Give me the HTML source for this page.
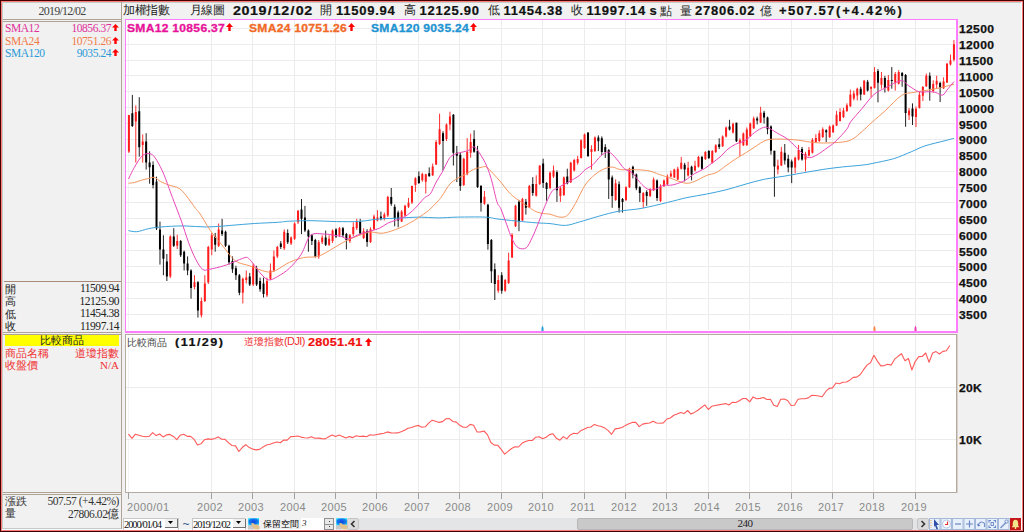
<!DOCTYPE html>
<html><head><meta charset="utf-8">
<style>
*{box-sizing:border-box;margin:0;padding:0}
html,body{width:1024px;height:532px;overflow:hidden;background:#f0f1f0}
body{position:relative;font-family:"Liberation Sans",sans-serif}
.a{position:absolute;white-space:nowrap}
.frame{position:absolute;left:0;top:0;width:1024px;height:532px;border:1px solid #420000}
.frame2{position:absolute;left:1px;top:1px;width:1022px;height:530px;border:1px solid #ff7a7a}
.ln{position:absolute;background:#b0a294}
.ser{font-family:"Liberation Serif",serif}
.lp{font-size:11.5px;line-height:12px;letter-spacing:-0.45px}
.hb{font-weight:bold;font-size:13px;line-height:14px;color:#111;letter-spacing:0.75px;-webkit-text-stroke:0.2px #111}
.hc{font-size:12px;line-height:14px;color:#222}
.leg{font-weight:bold;font-size:11px;line-height:12px;letter-spacing:0.25px;transform:scaleX(1.1);transform-origin:left;-webkit-text-stroke:0.3px currentColor}
.yl{position:absolute;left:958.5px;font-weight:bold;font-size:11px;line-height:14px;color:#111;letter-spacing:0.3px;transform:scaleX(1.1);transform-origin:left;-webkit-text-stroke:0.25px #111}
.xl{position:absolute;top:500.8px;font-size:11px;line-height:13px;color:#8a8a8a;letter-spacing:0.4px}
.xl.c{width:42px;text-align:center}
.arr{position:absolute;width:7px;height:9px}
</style></head><body>
<div class="frame"></div><div class="frame2"></div>
<!-- inner 3d lines -->
<div class="a" style="left:2px;top:2px;width:1019px;height:1px;background:#c4ccc6"></div>
<div class="a" style="left:2px;top:2px;width:1px;height:528px;background:#c4ccc6"></div>
<div class="a" style="left:1021px;top:2px;width:1px;height:528px;background:#f4ffff"></div>
<div class="a" style="left:2px;top:529px;width:1020px;height:1px;background:#f4ffff"></div>

<!-- left panel -->
<div class="ln" style="left:121px;top:2px;width:1px;height:527px"></div>
<div class="a ser" style="left:3px;top:3.5px;width:118px;text-align:center;font-size:12px;line-height:14px;color:#444;letter-spacing:-0.75px">2019/12/02</div>
<div class="ln" style="left:3px;top:19px;width:118px;height:1px"></div>
<div class="ln" style="left:3px;top:21px;width:118px;height:1px"></div>

<div class="a ser lp" style="left:5px;top:22px;color:#e0309a">SMA12</div>
<div class="a ser lp" style="left:40px;top:22px;width:71px;text-align:right;color:#e0309a">10856.37</div>
<div class="a ser lp" style="left:5px;top:34.5px;color:#f07a48">SMA24</div>
<div class="a ser lp" style="left:40px;top:34.5px;width:71px;text-align:right;color:#f07a48">10751.26</div>
<div class="a ser lp" style="left:5px;top:47px;color:#2a9ad8">SMA120</div>
<div class="a ser lp" style="left:40px;top:47px;width:71px;text-align:right;color:#2a9ad8">9035.24</div>

<div class="ln" style="left:4px;top:281px;width:117px;height:1px;background:#a88a78"></div>
<div class="a lp" style="left:5px;top:282.5px;color:#222;font-size:11px;letter-spacing:0">開</div>
<div class="a lp" style="left:5px;top:295px;color:#222;font-size:11px;letter-spacing:0">高</div>
<div class="a lp" style="left:5px;top:307.5px;color:#222;font-size:11px;letter-spacing:0">低</div>
<div class="a lp" style="left:5px;top:320px;color:#222;font-size:11px;letter-spacing:0">收</div>
<div class="a ser lp" style="left:40px;top:282px;width:79px;text-align:right;color:#222">11509.94</div>
<div class="a ser lp" style="left:40px;top:294.5px;width:79px;text-align:right;color:#222">12125.90</div>
<div class="a ser lp" style="left:40px;top:307px;width:79px;text-align:right;color:#222">11454.38</div>
<div class="a ser lp" style="left:40px;top:319.5px;width:79px;text-align:right;color:#222">11997.14</div>
<div class="ln" style="left:3px;top:332px;width:118px;height:1px"></div>
<div class="ln" style="left:3px;top:334px;width:118px;height:1px"></div>
<div class="a" style="left:5px;top:335px;width:114px;height:11px;background:#ffff00"></div>
<div class="a" style="left:5px;top:334px;width:114px;text-align:center;font-size:11px;line-height:13px;color:#222">比較商品</div>
<div class="a" style="left:5px;top:347px;font-size:11px;line-height:13px;color:#f03030">商品名稱</div>
<div class="a" style="left:40px;top:347px;width:79px;text-align:right;font-size:11px;line-height:13px;color:#f03030">道瓊指數</div>
<div class="a" style="left:5px;top:358.5px;font-size:11px;line-height:13px;color:#f03030">收盤價</div>
<div class="a ser" style="left:40px;top:358.5px;width:79px;text-align:right;font-size:11px;line-height:13px;color:#f03030">N/A</div>

<div class="ln" style="left:3px;top:492px;width:118px;height:1px"></div>
<div class="ln" style="left:3px;top:494px;width:118px;height:1px"></div>
<div class="a" style="left:5px;top:494.5px;font-size:11px;line-height:13px;color:#333">漲跌</div>
<div class="a ser lp" style="left:30px;top:495px;width:89px;text-align:right;color:#333">507.57 (+4.42%)</div>
<div class="a" style="left:5px;top:507px;font-size:11px;line-height:13px;color:#333">量</div>
<div class="a ser lp" style="left:30px;top:507.5px;width:89px;text-align:right;color:#333">27806.02億</div>
<div class="ln" style="left:3px;top:528px;width:118px;height:1px;background:#c8c8c8"></div>

<!-- header bar -->
<div class="a hc" style="left:123px;top:3px;letter-spacing:-0.3px">加權指數</div>
<div class="a hc" style="left:190px;top:3px;letter-spacing:-0.6px">月線圖</div>
<div class="a hb" style="left:233px;top:4px;letter-spacing:0.5px;transform:scaleX(1.1);transform-origin:left">2019<span style="margin:0 0.6px">/</span>12<span style="margin:0 0.6px">/</span>02</div>
<div class="a hc" style="left:320px;top:3px">開</div>
<div class="a hb" style="left:336px;top:4px">11509.94</div>
<div class="a hc" style="left:404px;top:3px">高</div>
<div class="a hb" style="left:419.5px;top:4px">12125.90</div>
<div class="a hc" style="left:488px;top:3px">低</div>
<div class="a hb" style="left:503.5px;top:4px">11454.38</div>
<div class="a hc" style="left:570.5px;top:3px">收</div>
<div class="a hb" style="left:586.5px;top:4px">11997.14</div>
<div class="a hb" style="left:649.5px;top:4px">s</div>
<div class="a hc" style="left:660px;top:3.5px">點</div>
<div class="a hc" style="left:679.5px;top:3.5px">量</div>
<div class="a hb" style="left:695px;top:4px">27806.02</div>
<div class="a hc" style="left:759.5px;top:3.5px">億</div>
<div class="a hb" style="left:779px;top:4px;letter-spacing:1.3px">+507.57</div><div class="a hb" style="left:836px;top:4px;letter-spacing:1.8px">(+4.42%)</div>

<!-- top chart -->
<div class="a" style="left:125px;top:19px;width:833px;height:314px;background:#fff;border-style:solid;border-color:#ff7cff;border-width:1px 2px 2px 1px"></div>
<!-- lower chart -->
<div class="a" style="left:125px;top:334px;width:832px;height:159px;background:#fff;border:1px solid #b4aaa0"></div><div class="a" style="left:957px;top:334px;width:1px;height:159px;background:#d8d2cc"></div>

<svg class="a" style="left:0;top:0" width="1024" height="532" viewBox="0 0 1024 532">
<path d="M128.5 20V330M128.5 335V492" stroke="#f3f3f3" stroke-width="1" fill="none" shape-rendering="crispEdges"/>
<path d="M126 314.5H955 M126 298.5H955 M126 282.5H955 M126 266.5H955 M126 250.5H955 M126 234.5H955 M126 218.5H955 M126 202.5H955 M126 187.5H955 M126 171.5H955 M126 155.5H955 M126 139.5H955 M126 123.5H955 M126 107.5H955 M126 91.5H955 M126 75.5H955 M126 60.5H955 M126 44.5H955 M126 28.5H955 M211.5 20V330 M252.5 20V330 M294.5 20V330 M335.5 20V330 M376.5 20V330 M418.5 20V330 M459.5 20V330 M501.5 20V330 M542.5 20V330 M584.5 20V330 M625.5 20V330 M666.5 20V330 M708.5 20V330 M749.5 20V330 M791.5 20V330 M832.5 20V330 M873.5 20V330 M915.5 20V330" stroke="#ececec" stroke-width="1" fill="none" shape-rendering="crispEdges"/>
<path d="M128.90 115.0V153.0 M135.80 105.4V162.6 M142.71 134.4V162.6 M170.32 235.3V278.0 M177.23 234.8V249.0 M194.49 275.2V289.3 M201.39 297.5V317.5 M204.84 275.2V302.0 M208.30 245.8V284.0 M211.75 232.9V255.2 M218.65 223.5V247.0 M242.82 277.6V303.4 M246.27 270.5V283.4 M253.17 263.5V286.0 M266.98 277.6V297.0 M270.43 263.5V280.0 M273.88 250.5V272.0 M277.34 245.8V258.0 M284.24 229.4V250.0 M291.14 236.4V245.0 M294.60 222.3V240.0 M298.05 210.6V224.0 M318.76 240.0V258.8 M322.21 235.3V244.0 M329.12 235.3V246.0 M332.57 229.4V243.0 M339.47 227.0V237.0 M349.83 234.1V243.0 M353.28 222.3V236.0 M356.73 218.8V230.0 M363.64 228.2V239.0 M370.54 227.3V243.0 M373.99 214.6V230.0 M377.44 210.2V221.4 M384.35 212.6V220.4 M387.80 195.8V217.0 M401.61 210.2V222.0 M405.06 204.8V216.0 M408.51 197.9V208.0 M411.96 185.6V204.0 M415.42 177.2V191.9 M422.32 172.7V181.7 M425.77 173.9V193.5 M432.68 163.5V176.0 M436.13 140.1V165.0 M439.58 113.7V145.0 M446.48 123.5V141.0 M449.94 111.7V130.3 M463.74 157.7V186.0 M467.20 138.1V175.3 M470.65 133.6V157.7 M484.46 191.0V204.8 M498.26 275.2V292.8 M505.17 279.0V291.8 M508.62 252.7V284.0 M512.07 233.1V258.0 M515.52 204.8V227.0 M522.43 197.9V221.0 M529.33 185.0V208.0 M536.24 175.3V196.5 M539.69 165.5V185.0 M550.04 171.4V189.0 M553.50 165.5V178.0 M560.40 186.2V201.9 M563.85 176.5V196.0 M570.76 161.8V183.0 M574.21 158.9V171.5 M577.66 155.9V164.7 M581.11 139.3V158.5 M584.56 133.5V149.0 M591.47 145.2V169.6 M594.92 136.4V152.0 M615.63 179.4V200.9 M625.99 186.2V201.0 M629.44 167.7V188.0 M643.25 192.1V207.8 M650.15 188.2V197.0 M653.60 177.4V191.0 M660.51 184.3V202.0 M663.96 179.4V187.0 M667.41 174.5V185.0 M670.86 170.6V177.5 M674.32 168.7V178.0 M677.77 166.7V180.0 M681.22 156.9V169.5 M688.12 161.8V176.5 M695.03 160.8V171.5 M698.48 155.9V167.5 M705.38 151.1V160.0 M712.29 150.1V163.5 M715.74 144.2V153.0 M722.64 135.4V147.0 M726.10 126.6V137.5 M733.00 122.7V133.5 M739.90 138.3V155.9 M743.36 132.5V146.0 M746.81 127.4V146.0 M750.26 122.5V137.0 M753.71 116.6V129.0 M760.62 106.8V123.0 M777.88 159.6V174.3 M781.33 146.9V166.0 M795.14 156.7V173.3 M798.59 145.0V160.5 M805.49 151.8V171.4 M808.94 146.9V156.5 M812.40 138.1V153.5 M815.85 134.2V143.0 M819.30 130.3V142.0 M822.75 127.4V138.0 M829.66 125.4V138.0 M833.11 124.4V133.0 M836.56 110.8V126.0 M840.01 108.2V121.5 M843.46 107.8V118.0 M846.92 103.3V112.0 M850.37 89.6V107.0 M853.82 90.6V100.4 M857.27 87.7V100.4 M864.18 79.9V95.0 M871.08 86.7V97.4 M874.53 67.1V88.5 M881.44 72.0V88.7 M888.34 75.0V91.6 M895.24 72.0V90.6 M898.70 70.1V84.5 M909.05 108.0V120.0 M915.96 106.5V127.0 M919.41 92.0V108.5 M922.86 86.0V101.0 M926.31 73.5V87.0 M933.22 80.3V92.6 M936.67 75.7V88.7 M943.57 77.3V89.0 M947.02 62.9V83.0 M950.48 54.5V65.5 M953.93 40.1V61.5" stroke="#ff3030" stroke-width="1" fill="none"/>
<path d="M132.35 94.9V127.0 M139.26 97.2V156.7 M146.16 133.2V169.6 M149.61 151.3V183.7 M153.06 161.4V188.4 M156.52 176.7V230.0 M159.97 221.6V264.6 M163.42 235.3V275.2 M166.87 254.0V281.0 M173.78 228.2V247.0 M180.68 240.0V257.0 M184.13 250.5V270.5 M187.58 256.4V275.2 M191.04 269.3V298.7 M197.94 281.1V317.5 M215.20 232.9V251.7 M222.10 218.8V236.0 M225.56 230.6V247.0 M229.01 244.7V264.6 M232.46 256.4V272.9 M235.91 265.8V279.9 M239.36 274.0V295.2 M249.72 272.9V286.0 M256.62 265.8V286.0 M260.08 277.6V291.7 M263.53 277.6V297.5 M280.79 241.1V249.0 M287.69 229.4V244.0 M301.50 199.0V234.1 M304.95 205.9V232.0 M308.40 229.4V251.7 M311.86 234.1V245.0 M315.31 238.8V257.6 M325.66 230.6V246.0 M336.02 228.2V238.0 M342.92 227.0V237.0 M346.38 232.9V249.4 M360.18 218.8V235.0 M367.09 229.2V246.8 M380.90 211.6V220.4 M391.25 188.0V205.8 M394.70 204.4V226.3 M398.16 210.6V227.3 M418.87 171.4V184.0 M429.22 167.4V176.6 M443.03 131.3V170.4 M453.39 114.1V165.5 M456.84 145.9V182.1 M460.29 152.8V190.9 M474.10 130.3V152.8 M477.55 145.9V188.0 M481.00 185.0V211.6 M487.91 203.8V249.7 M491.36 239.0V283.0 M494.81 263.4V300.0 M501.72 272.2V293.7 M518.98 199.9V231.2 M525.88 198.9V214.6 M532.78 177.2V195.8 M543.14 158.7V188.0 M546.59 182.1V200.7 M556.95 170.4V201.9 M567.30 168.7V184.3 M588.02 132.5V157.0 M598.37 135.4V151.1 M601.82 136.4V155.0 M605.28 144.2V157.9 M608.73 149.1V199.0 M612.18 175.5V207.8 M619.08 181.4V212.6 M622.54 198.0V212.6 M632.89 165.7V178.4 M636.34 173.5V190.2 M639.80 186.2V201.9 M646.70 190.2V205.8 M657.06 179.4V200.9 M684.67 162.8V181.4 M691.58 165.7V180.4 M701.93 155.9V169.5 M708.84 150.1V159.0 M719.19 138.3V149.1 M729.55 119.8V130.5 M736.45 122.7V142.0 M757.16 116.6V124.4 M764.07 110.8V123.5 M767.52 116.6V134.2 M770.97 125.4V154.7 M774.42 150.8V196.8 M784.78 144.0V164.5 M788.23 154.7V172.3 M791.68 159.6V183.1 M802.04 146.9V160.6 M826.20 129.3V142.0 M860.72 86.7V100.4 M867.63 79.9V91.5 M877.98 69.1V102.3 M884.89 75.9V92.6 M891.79 67.1V88.7 M902.15 72.0V86.7 M905.60 74.0V126.8 M912.50 103.4V125.0 M929.76 72.5V100.7 M940.12 81.6V102.0" stroke="#202020" stroke-width="1" fill="none"/>
<path d="M127.90 115.1h2v36.4h-2z M134.80 112.0h2v9.4h-2z M141.71 141.4h2v3.6h-2z M169.32 236.4h2v40.0h-2z M176.23 241.1h2v4.7h-2z M193.49 282.3h2v4.7h-2z M200.39 301.1h2v14.1h-2z M203.84 283.4h2v17.7h-2z M207.30 247.0h2v35.3h-2z M210.75 235.3h2v14.1h-2z M217.65 229.4h2v16.4h-2z M241.82 278.7h2v14.1h-2z M245.27 277.6h2v2.3h-2z M252.17 265.8h2v18.8h-2z M265.98 281.1h2v14.1h-2z M269.43 270.5h2v8.2h-2z M272.88 256.4h2v14.1h-2z M276.34 247.0h2v9.4h-2z M283.24 231.7h2v16.5h-2z M290.14 237.6h2v5.9h-2z M293.60 223.5h2v15.3h-2z M297.05 210.6h2v11.7h-2z M317.76 242.3h2v14.1h-2z M321.21 237.6h2v4.7h-2z M328.12 238.8h2v5.9h-2z M331.57 230.6h2v10.5h-2z M338.47 228.2h2v7.1h-2z M348.83 235.3h2v5.8h-2z M352.28 227.0h2v7.1h-2z M355.73 221.2h2v7.0h-2z M362.64 231.2h2v6.8h-2z M369.54 229.2h2v12.7h-2z M372.99 216.5h2v12.7h-2z M376.44 217.5h2v2.9h-2z M383.35 214.6h2v4.3h-2z M386.80 197.0h2v18.5h-2z M400.61 211.6h2v9.8h-2z M404.06 205.8h2v9.7h-2z M407.51 202.8h2v3.9h-2z M410.96 186.0h2v16.6h-2z M414.42 178.2h2v6.8h-2z M421.32 173.9h2v6.3h-2z M424.77 174.3h2v7.4h-2z M431.68 166.5h2v8.8h-2z M435.13 142.0h2v22.5h-2z M438.58 129.3h2v14.7h-2z M445.48 124.4h2v14.7h-2z M448.94 116.6h2v7.8h-2z M462.74 158.7h2v26.3h-2z M466.20 151.8h2v22.5h-2z M469.65 142.0h2v10.8h-2z M483.46 196.8h2v7.0h-2z M497.26 280.0h2v10.8h-2z M504.17 280.0h2v10.8h-2z M507.62 260.5h2v22.5h-2z M511.07 235.1h2v22.5h-2z M514.52 205.8h2v20.5h-2z M521.43 198.9h2v21.5h-2z M528.33 186.0h2v21.7h-2z M535.24 184.1h2v11.7h-2z M538.69 165.5h2v18.6h-2z M549.04 172.7h2v15.3h-2z M552.50 170.4h2v6.1h-2z M559.40 188.2h2v7.8h-2z M562.85 177.4h2v17.6h-2z M569.76 162.8h2v19.5h-2z M573.21 159.9h2v10.7h-2z M576.66 158.9h2v3.9h-2z M580.11 140.3h2v17.6h-2z M583.56 134.4h2v13.7h-2z M590.47 149.1h2v2.9h-2z M593.92 137.4h2v13.7h-2z M614.63 183.3h2v16.6h-2z M624.99 187.2h2v12.7h-2z M628.44 168.7h2v18.5h-2z M642.25 193.1h2v8.8h-2z M649.15 189.2h2v6.8h-2z M652.60 179.4h2v10.8h-2z M659.51 186.2h2v14.7h-2z M662.96 180.4h2v5.8h-2z M666.41 176.5h2v7.8h-2z M669.86 173.5h2v3.0h-2z M673.32 169.6h2v7.8h-2z M676.77 168.7h2v10.7h-2z M680.22 162.8h2v5.9h-2z M687.12 167.7h2v7.8h-2z M694.03 165.7h2v4.9h-2z M697.48 156.9h2v9.8h-2z M704.38 152.0h2v6.9h-2z M711.29 151.1h2v11.7h-2z M714.74 145.2h2v6.8h-2z M721.64 136.4h2v9.8h-2z M725.10 127.6h2v8.8h-2z M732.00 123.7h2v8.8h-2z M738.90 140.3h2v2.9h-2z M742.36 133.5h2v11.7h-2z M745.81 129.5h2v15.6h-2z M749.26 123.5h2v12.7h-2z M752.71 118.6h2v9.7h-2z M759.62 112.7h2v9.8h-2z M776.88 165.5h2v3.9h-2z M780.33 151.8h2v13.7h-2z M794.14 157.7h2v9.7h-2z M797.59 149.9h2v9.7h-2z M804.49 153.8h2v5.8h-2z M807.94 149.9h2v5.8h-2z M811.40 140.1h2v12.7h-2z M814.85 138.1h2v3.9h-2z M818.30 133.2h2v7.8h-2z M821.75 129.3h2v7.8h-2z M828.66 126.4h2v10.7h-2z M832.11 125.4h2v6.9h-2z M835.56 114.7h2v10.7h-2z M839.01 112.0h2v8.9h-2z M842.46 110.5h2v6.5h-2z M845.92 105.3h2v5.8h-2z M849.37 94.5h2v11.7h-2z M852.82 93.5h2v4.9h-2z M856.27 88.7h2v6.8h-2z M863.18 80.8h2v13.7h-2z M870.08 86.7h2v2.0h-2z M873.53 72.0h2v15.7h-2z M880.44 77.9h2v6.8h-2z M887.34 79.9h2v10.7h-2z M894.24 74.0h2v8.8h-2z M897.70 72.0h2v11.8h-2z M908.05 110.5h2v4.7h-2z M914.96 108.8h2v8.2h-2z M918.41 94.8h2v13.2h-2z M921.86 87.0h2v8.7h-2z M925.31 75.7h2v10.5h-2z M932.22 84.0h2v7.0h-2z M935.67 80.7h2v3.7h-2z M942.57 81.5h2v6.8h-2z M946.02 63.8h2v18.6h-2z M949.48 60.4h2v4.2h-2z M952.93 44.2h2v15.5h-2z" fill="#ff1c1c"/>
<path d="M131.35 113.2h2v12.9h-2z M138.26 111.3h2v36.0h-2z M145.16 141.4h2v21.2h-2z M148.61 162.6h2v4.7h-2z M152.06 164.9h2v20.0h-2z M155.52 181.4h2v47.1h-2z M158.97 229.4h2v20.0h-2z M162.42 249.4h2v9.4h-2z M165.87 261.6h2v14.8h-2z M172.78 236.4h2v9.4h-2z M179.68 241.1h2v14.1h-2z M183.13 251.7h2v11.8h-2z M186.58 263.5h2v7.0h-2z M190.04 270.5h2v17.6h-2z M196.94 282.3h2v28.2h-2z M214.20 236.4h2v8.3h-2z M221.10 230.6h2v3.5h-2z M224.56 231.7h2v14.1h-2z M228.01 245.8h2v16.5h-2z M231.46 261.1h2v8.2h-2z M234.91 268.2h2v7.0h-2z M238.36 275.2h2v17.6h-2z M248.72 276.4h2v8.2h-2z M255.62 268.2h2v16.4h-2z M259.08 281.1h2v8.2h-2z M262.53 283.4h2v10.6h-2z M279.79 243.5h2v3.5h-2z M286.69 232.9h2v9.4h-2z M300.50 209.4h2v9.4h-2z M303.95 217.6h2v13.0h-2z M307.40 230.6h2v5.8h-2z M310.86 235.3h2v5.8h-2z M314.31 240.0h2v16.4h-2z M324.66 237.6h2v7.1h-2z M335.02 229.4h2v7.0h-2z M341.92 228.2h2v7.1h-2z M345.38 234.1h2v5.9h-2z M359.18 221.5h2v12.0h-2z M366.09 231.2h2v10.7h-2z M379.90 216.5h2v2.4h-2z M390.25 197.0h2v6.8h-2z M393.70 206.7h2v11.8h-2z M397.16 212.6h2v7.8h-2z M417.87 176.2h2v6.9h-2z M428.22 173.3h2v2.9h-2z M442.03 133.2h2v7.8h-2z M452.39 114.7h2v38.1h-2z M455.84 152.8h2v2.9h-2z M459.29 154.7h2v31.3h-2z M473.10 139.1h2v12.7h-2z M476.55 150.8h2v36.2h-2z M480.00 186.0h2v16.8h-2z M486.91 204.8h2v39.1h-2z M490.36 240.0h2v31.2h-2z M493.81 269.3h2v14.7h-2z M500.72 275.2h2v15.6h-2z M517.98 201.8h2v19.6h-2z M524.88 201.8h2v5.9h-2z M531.78 184.1h2v8.8h-2z M542.14 163.5h2v19.6h-2z M545.59 183.1h2v5.9h-2z M555.95 172.3h2v17.9h-2z M566.30 176.5h2v6.8h-2z M587.02 132.5h2v23.4h-2z M597.37 137.4h2v3.9h-2z M600.82 138.3h2v13.7h-2z M604.28 147.1h2v4.9h-2z M607.73 150.1h2v29.3h-2z M611.18 177.4h2v18.6h-2z M618.08 184.3h2v23.5h-2z M621.54 199.0h2v2.9h-2z M631.89 166.7h2v7.8h-2z M635.34 174.5h2v13.7h-2z M638.80 187.2h2v5.9h-2z M645.70 192.1h2v3.9h-2z M656.06 180.4h2v17.6h-2z M683.67 164.7h2v4.9h-2z M690.58 166.7h2v7.8h-2z M700.93 156.9h2v11.8h-2z M707.84 151.1h2v6.8h-2z M718.19 144.2h2v2.9h-2z M728.55 126.6h2v3.0h-2z M735.45 122.7h2v18.6h-2z M756.16 118.6h2v1.9h-2z M763.07 112.7h2v4.9h-2z M766.52 117.6h2v11.7h-2z M769.97 126.4h2v24.4h-2z M773.42 150.8h2v15.7h-2z M783.78 152.8h2v7.8h-2z M787.23 158.7h2v8.7h-2z M790.68 161.6h2v5.8h-2z M801.04 148.9h2v10.7h-2z M825.20 130.3h2v2.0h-2z M859.72 88.7h2v5.8h-2z M866.63 81.8h2v8.8h-2z M876.98 71.1h2v11.7h-2z M883.89 77.9h2v9.8h-2z M890.79 79.9h2v1.2h-2z M901.15 73.0h2v2.9h-2z M904.60 75.0h2v38.0h-2z M911.50 108.4h2v8.2h-2z M928.76 75.7h2v13.0h-2z M939.12 83.0h2v4.6h-2z" fill="#000"/>
<path d="M128.5 230.6 C129.9 230.8 133.5 232.0 136.8 231.7 C140.1 231.4 144.6 229.5 148.5 228.7 C152.4 227.9 154.4 227.5 160.3 227.0 C166.2 226.5 176.0 225.9 183.8 225.9 C191.6 225.9 199.5 227.1 207.3 227.0 C215.1 226.9 223.0 226.0 230.8 225.4 C238.6 224.8 246.5 224.0 254.3 223.5 C262.1 223.0 271.9 222.7 277.8 222.3 C283.7 221.9 283.6 221.5 289.5 221.2 C295.4 220.9 305.2 220.6 313.0 220.7 C320.8 220.8 328.7 221.5 336.5 221.6 C344.3 221.7 352.8 221.8 360.0 221.3 C367.2 220.9 373.1 219.4 379.6 218.9 C386.1 218.4 392.6 218.4 399.1 218.1 C405.6 217.8 412.2 217.1 418.7 217.1 C425.2 217.1 431.7 217.9 438.2 217.9 C444.7 217.9 450.0 217.2 457.8 217.1 C465.6 217.0 478.6 216.8 485.1 217.1 C491.6 217.4 491.7 218.2 496.9 218.9 C502.1 219.6 509.9 220.3 516.4 221.0 C522.9 221.7 530.4 222.4 536.0 222.8 C541.6 223.2 545.1 223.2 550.0 223.6 C554.9 224.0 560.7 225.7 565.6 225.4 C570.5 225.1 573.8 223.5 579.3 222.0 C584.8 220.5 592.4 218.0 598.9 216.2 C605.4 214.4 611.2 212.6 618.4 211.3 C625.6 210.0 633.8 209.8 641.9 208.3 C650.0 206.8 659.8 204.3 667.3 202.5 C674.8 200.7 680.4 199.0 686.9 197.6 C693.4 196.2 699.9 195.4 706.4 194.1 C712.9 192.8 719.6 191.4 726.0 189.8 C732.4 188.2 738.6 186.1 745.0 184.3 C751.4 182.5 758.1 180.5 764.6 179.2 C771.1 177.8 777.6 177.3 784.1 176.2 C790.6 175.1 797.2 173.8 803.7 172.7 C810.2 171.6 816.7 170.4 823.2 169.4 C829.7 168.4 836.3 167.6 842.8 166.9 C849.3 166.2 857.4 165.7 862.3 165.1 C867.2 164.5 866.9 164.6 872.1 163.5 C877.3 162.4 887.1 160.6 893.6 158.7 C900.1 156.8 906.0 153.9 911.2 151.8 C916.4 149.7 919.3 147.8 924.9 145.9 C930.5 144.1 940.1 142.0 945.0 140.7 C949.9 139.4 952.5 138.7 954.0 138.3" stroke="#3ca4dc" stroke-width="1.0" fill="none"/>
<path d="M128.5 183.2 C129.5 183.1 132.2 183.0 134.4 182.5 C136.6 182.0 139.2 180.9 141.5 180.2 C143.8 179.5 146.3 179.0 148.5 178.5 C150.7 178.0 152.4 176.9 154.4 177.4 C156.4 177.9 158.0 180.2 160.3 181.4 C162.7 182.7 165.4 183.7 168.5 184.9 C171.6 186.1 176.2 186.6 179.1 188.4 C182.0 190.2 183.4 192.2 186.1 195.5 C188.8 198.8 193.2 205.3 195.5 208.4 C197.8 211.5 197.4 210.0 200.2 214.1 C202.9 218.2 208.1 227.4 212.0 232.9 C215.9 238.4 220.6 243.1 223.7 247.0 C226.8 250.9 228.5 253.8 230.8 256.4 C233.2 258.9 234.7 260.7 237.8 262.3 C240.9 263.9 244.9 264.2 249.6 265.8 C254.3 267.4 261.7 270.9 266.0 271.7 C270.3 272.5 271.5 272.1 275.4 270.5 C279.3 268.9 284.8 264.4 289.5 262.3 C294.2 260.2 298.9 258.6 303.6 257.6 C308.3 256.6 313.4 257.6 317.7 256.4 C322.0 255.2 325.6 252.7 329.5 250.5 C333.4 248.3 337.7 245.4 341.2 243.5 C344.7 241.6 346.7 240.5 350.6 238.8 C354.5 237.1 361.2 234.6 364.7 233.5 C368.2 232.4 368.6 232.2 371.7 232.1 C374.8 232.0 378.9 233.8 383.5 233.1 C388.1 232.4 394.6 230.0 399.1 228.2 C403.7 226.4 407.5 224.2 410.8 222.4 C414.1 220.6 415.8 219.5 418.7 217.5 C421.6 215.5 425.1 213.4 428.4 210.6 C431.6 207.8 435.9 203.4 438.2 200.9 C440.5 198.4 440.2 198.6 442.1 195.8 C444.1 193.0 447.3 187.0 449.9 184.1 C452.5 181.2 455.2 179.8 457.8 178.2 C460.4 176.6 463.0 175.8 465.6 174.3 C468.2 172.8 470.8 170.6 473.4 169.4 C476.0 168.2 479.1 167.8 481.2 167.4 C483.3 167.0 484.2 165.9 486.1 166.9 C488.1 167.9 490.4 170.8 492.9 173.3 C495.3 175.8 498.2 179.0 500.8 182.1 C503.4 185.2 506.0 189.1 508.6 191.9 C511.2 194.7 513.1 196.2 516.4 198.7 C519.6 201.2 524.8 204.5 528.1 206.7 C531.4 208.8 533.4 210.4 536.0 211.6 C538.6 212.8 541.5 213.2 543.8 213.6 C546.1 214.0 547.3 213.6 550.0 214.2 C552.7 214.8 556.9 216.9 559.8 217.1 C562.7 217.3 565.0 217.5 567.6 215.2 C570.2 212.9 572.5 208.5 575.4 203.5 C578.3 198.5 581.9 189.8 585.2 185.0 C588.5 180.2 591.8 177.2 595.0 174.5 C598.2 171.8 601.8 169.9 604.7 168.7 C607.6 167.5 610.0 166.9 612.6 167.1 C615.2 167.2 617.1 169.2 620.4 169.6 C623.6 170.0 627.5 169.4 632.1 169.6 C636.7 169.8 643.2 169.8 647.8 170.6 C652.4 171.4 655.6 173.2 659.5 174.5 C663.4 175.8 668.0 177.2 671.2 178.4 C674.5 179.6 676.4 180.6 679.0 181.4 C681.6 182.2 684.3 183.3 686.9 183.3 C689.5 183.3 691.5 182.7 694.7 181.4 C698.0 180.1 702.8 177.0 706.4 175.5 C710.0 174.0 712.9 174.2 716.2 172.6 C719.5 171.0 722.8 168.0 726.0 165.7 C729.2 163.4 732.5 161.0 735.7 158.9 C739.0 156.8 742.3 155.0 745.5 153.0 C748.7 151.0 751.3 149.1 754.8 146.9 C758.3 144.8 762.3 141.4 766.5 140.1 C770.7 138.8 775.0 139.1 780.2 139.1 C785.4 139.1 792.9 139.6 797.8 140.1 C802.7 140.6 805.3 141.5 809.5 142.0 C813.7 142.5 817.7 143.0 823.2 143.0 C828.8 143.0 837.9 142.7 842.8 142.0 C847.7 141.3 849.2 140.9 852.5 139.1 C855.8 137.3 859.0 134.1 862.3 131.3 C865.6 128.5 868.2 125.7 872.1 122.2 C876.0 118.7 880.9 114.7 885.8 110.2 C890.7 105.8 896.8 98.5 901.4 95.5 C906.0 92.5 909.2 93.3 913.1 92.5 C917.0 91.7 920.3 91.4 924.9 90.6 C929.5 89.8 935.6 88.8 940.5 87.7 C945.4 86.6 951.8 84.7 954.0 84.1" stroke="#f5965e" stroke-width="1.0" fill="none"/>
<path d="M128.5 179.0 C129.5 177.1 132.1 171.2 134.4 167.3 C136.8 163.4 139.8 157.7 142.6 155.5 C145.3 153.3 148.6 153.1 150.9 153.9 C153.2 154.7 154.5 156.8 156.7 160.2 C158.8 163.6 161.5 168.8 163.8 174.3 C166.2 179.8 168.6 187.2 170.8 193.1 C173.0 199.0 175.4 205.3 177.2 210.0 C179.0 214.7 179.5 215.8 181.4 221.2 C183.3 226.6 186.2 236.0 188.5 242.3 C190.8 248.6 193.2 254.3 195.5 258.8 C197.8 263.3 200.2 267.6 202.6 269.3 C204.9 271.1 206.1 269.9 209.6 269.3 C213.1 268.7 219.8 267.0 223.7 265.8 C227.6 264.6 229.6 263.7 233.1 262.3 C236.6 260.9 242.3 258.3 244.9 257.6 C247.5 256.9 247.0 257.3 248.4 258.3 C249.8 259.3 251.1 261.1 253.1 263.5 C255.1 265.9 257.6 270.2 260.1 272.9 C262.7 275.6 265.4 279.3 268.4 279.9 C271.3 280.5 274.3 278.3 277.8 276.4 C281.3 274.4 285.6 271.9 289.5 268.2 C293.4 264.5 297.8 259.6 301.3 254.1 C304.8 248.6 306.8 238.6 310.7 235.3 C314.6 232.0 320.9 234.1 324.8 234.1 C328.7 234.1 331.5 234.9 334.2 235.3 C336.9 235.7 338.8 235.8 341.2 236.4 C343.6 237.0 345.2 239.2 348.3 238.8 C351.4 238.4 356.4 235.4 360.0 234.1 C363.6 232.8 366.5 232.2 369.8 231.2 C373.1 230.2 376.7 229.5 379.6 228.2 C382.5 226.9 384.8 224.6 387.4 223.3 C390.0 222.0 392.3 221.5 395.2 220.4 C398.1 219.3 401.8 218.4 405.0 216.5 C408.2 214.6 411.4 211.8 414.7 208.7 C417.9 205.6 421.9 200.3 424.5 197.8 C427.1 195.3 428.4 196.4 430.4 193.8 C432.3 191.2 434.2 185.7 436.2 182.1 C438.1 178.5 440.1 175.9 442.1 172.3 C444.1 168.7 446.4 163.4 448.0 160.6 C449.6 157.8 450.3 156.9 451.9 155.7 C453.5 154.5 455.9 153.8 457.8 153.2 C459.8 152.5 461.7 152.4 463.6 151.8 C465.6 151.2 467.9 150.7 469.5 149.9 C471.1 149.1 472.1 146.9 473.4 146.9 C474.7 146.9 475.4 147.3 477.3 149.9 C479.2 152.5 482.8 157.9 485.1 162.6 C487.4 167.3 489.0 171.7 491.0 178.2 C493.0 184.7 495.3 196.6 496.9 201.7 C498.5 206.8 499.2 204.9 500.8 208.7 C502.4 212.5 504.7 219.1 506.6 224.3 C508.6 229.5 510.5 236.1 512.5 240.0 C514.5 243.9 516.1 246.5 518.4 247.8 C520.7 249.1 523.9 249.4 526.2 247.8 C528.5 246.2 530.0 241.9 532.0 238.0 C534.0 234.1 535.9 229.2 537.9 224.3 C539.9 219.4 541.5 214.1 543.8 208.7 C546.1 203.3 549.3 195.3 551.6 191.9 C553.9 188.5 554.5 189.8 557.5 188.0 C560.5 186.2 566.0 183.5 569.6 181.4 C573.2 179.3 576.7 177.5 579.3 175.5 C581.9 173.5 582.9 171.4 585.2 169.6 C587.5 167.8 590.4 167.0 593.0 164.7 C595.6 162.4 598.2 158.0 600.8 155.9 C603.4 153.8 606.1 151.5 608.7 152.0 C611.3 152.5 613.9 156.1 616.5 158.9 C619.1 161.7 621.7 166.4 624.3 168.7 C626.9 171.0 629.5 170.3 632.1 172.6 C634.7 174.9 637.3 179.5 639.9 182.3 C642.5 185.1 645.2 188.0 647.8 189.2 C650.4 190.3 653.0 189.8 655.6 189.2 C658.2 188.5 661.1 186.0 663.4 185.3 C665.7 184.7 667.3 185.5 669.3 185.3 C671.2 185.1 672.5 185.1 675.1 184.3 C677.7 183.5 681.6 182.2 684.9 180.4 C688.2 178.6 691.5 175.4 694.7 173.5 C698.0 171.6 701.5 170.5 704.4 168.7 C707.3 166.9 709.7 164.8 712.3 162.8 C714.9 160.8 717.5 159.2 720.1 156.9 C722.7 154.6 725.3 151.2 727.9 149.1 C730.5 147.0 732.8 145.7 735.7 144.2 C738.6 142.7 742.3 142.3 745.5 140.3 C748.7 138.3 751.8 134.5 754.8 132.3 C757.8 130.2 761.2 128.1 763.6 127.4 C766.0 126.7 767.1 127.3 769.4 128.3 C771.7 129.3 774.5 131.6 777.3 133.2 C780.1 134.8 783.7 136.5 786.1 138.1 C788.5 139.7 790.0 141.2 791.9 143.0 C793.8 144.8 795.8 147.0 797.8 148.9 C799.8 150.8 801.8 153.2 803.7 154.7 C805.7 156.2 807.2 157.7 809.5 157.7 C811.8 157.7 814.4 156.3 817.3 154.7 C820.2 153.1 824.2 150.0 827.1 147.9 C830.0 145.8 831.6 145.1 834.9 142.0 C838.2 138.9 844.1 132.7 846.7 129.3 C849.3 126.0 848.0 125.4 850.6 121.9 C853.2 118.4 858.4 112.8 862.3 108.2 C866.2 103.6 870.1 97.9 874.0 94.5 C877.9 91.1 881.3 90.0 885.8 87.7 C890.3 85.4 897.4 81.0 901.2 80.7 C905.0 80.4 905.8 84.0 908.8 85.8 C911.8 87.6 915.5 90.7 918.9 91.7 C922.3 92.7 926.3 91.6 929.1 91.7 C931.9 91.8 933.5 91.9 935.8 92.5 C938.0 93.1 940.6 95.7 942.6 95.1 C944.6 94.5 945.8 91.4 947.7 89.1 C949.6 86.8 953.0 82.8 954.0 81.5" stroke="#ea46b8" stroke-width="1.0" fill="none"/>
<path d="M541.5 331V328L542.5 325.5L543.5 328V331Z" fill="#2a9ad8"/>
<path d="M873.5 331V328L874.5 325.5L875.5 328V331Z" fill="#f58a4c"/>
<path d="M914.5 331V328L915.5 325.5L916.5 328V331Z" fill="#e83cb4"/>
<path d="M126 439.5H956 M126 387.5H956 M211.5 335V492 M252.5 335V492 M294.5 335V492 M335.5 335V492 M376.5 335V492 M418.5 335V492 M459.5 335V492 M501.5 335V492 M542.5 335V492 M584.5 335V492 M625.5 335V492 M666.5 335V492 M708.5 335V492 M749.5 335V492 M791.5 335V492 M832.5 335V492 M873.5 335V492 M915.5 335V492" stroke="#ececec" stroke-width="1" fill="none" shape-rendering="crispEdges"/>
<path d="M128.5 434.1 L132.0 438.3 L135.4 434.2 L138.9 435.2 L142.3 436.3 L145.8 436.7 L149.2 436.3 L152.7 432.7 L156.1 435.6 L159.6 434.0 L163.0 436.9 L166.5 434.9 L169.9 434.4 L173.4 436.4 L176.8 439.6 L180.3 435.2 L183.7 434.3 L187.2 436.4 L190.6 436.3 L194.1 439.3 L197.5 445.0 L201.0 443.8 L204.4 439.8 L207.9 438.9 L211.3 439.4 L214.8 438.5 L218.2 436.9 L221.7 439.3 L225.1 439.4 L228.6 442.9 L232.0 445.5 L235.5 445.9 L238.9 451.5 L242.4 447.3 L245.8 444.7 L249.3 447.6 L252.7 449.1 L256.2 449.9 L259.6 449.4 L263.1 446.9 L266.5 445.0 L270.0 444.3 L273.4 443.0 L276.9 442.0 L280.3 442.8 L283.8 440.0 L287.2 440.1 L290.7 436.6 L294.1 436.5 L297.6 436.0 L301.1 437.1 L304.5 437.8 L308.0 438.0 L311.4 436.7 L314.9 438.3 L318.3 438.1 L321.8 438.6 L325.2 438.9 L328.7 436.8 L332.1 434.9 L335.6 436.5 L339.0 435.0 L342.5 436.4 L345.9 438.0 L349.4 436.6 L352.8 437.6 L356.3 435.7 L359.7 436.5 L363.2 436.1 L366.6 436.7 L370.1 434.8 L373.5 435.3 L377.0 434.5 L380.4 433.9 L383.9 433.3 L387.3 431.9 L390.8 432.9 L394.2 433.0 L397.7 432.9 L401.1 431.8 L404.6 430.3 L408.0 428.2 L411.5 427.5 L414.9 426.2 L418.4 425.4 L421.8 427.2 L425.3 426.8 L428.7 423.1 L432.2 420.2 L435.6 421.3 L439.1 422.4 L442.5 421.6 L446.0 418.8 L449.4 418.6 L452.9 421.5 L456.3 422.1 L459.8 425.3 L463.2 427.3 L466.7 427.3 L470.1 424.4 L473.6 425.3 L477.1 432.0 L480.5 431.9 L484.0 431.0 L487.4 434.6 L490.9 442.5 L494.3 445.1 L497.8 445.3 L501.2 449.4 L504.7 454.2 L508.1 451.4 L511.6 448.5 L515.0 446.8 L518.5 447.0 L521.9 443.3 L525.4 441.6 L528.8 440.5 L532.3 440.5 L535.7 437.2 L539.2 436.8 L542.6 438.7 L546.1 437.3 L549.5 434.6 L553.0 433.8 L556.4 438.3 L559.9 440.2 L563.3 436.6 L566.8 438.9 L570.2 434.9 L573.7 433.2 L577.1 433.8 L580.6 430.8 L584.0 429.2 L587.5 427.5 L590.9 427.0 L594.4 424.4 L597.8 425.7 L601.3 426.5 L604.7 427.9 L608.2 430.6 L611.6 434.3 L615.1 428.9 L618.5 428.4 L622.0 427.5 L625.4 425.4 L628.9 423.7 L632.3 422.4 L635.8 422.4 L639.2 426.6 L642.7 424.1 L646.1 423.4 L649.6 423.0 L653.1 421.2 L656.5 423.0 L660.0 423.3 L663.4 422.9 L666.9 419.0 L670.3 418.0 L673.8 415.3 L677.2 413.9 L680.7 412.5 L684.1 413.6 L687.6 410.5 L691.0 414.1 L694.5 412.4 L697.9 410.3 L701.4 407.5 L704.8 404.9 L708.3 409.5 L711.7 406.3 L715.2 405.5 L718.6 404.9 L722.1 404.2 L725.5 403.6 L729.0 405.0 L732.4 402.2 L735.9 402.5 L739.3 400.7 L742.8 398.5 L746.2 398.5 L749.7 401.9 L753.1 396.9 L756.6 398.7 L760.0 398.4 L763.5 397.5 L766.9 399.5 L770.4 399.2 L773.8 405.2 L777.3 406.4 L780.7 399.3 L784.2 399.0 L787.6 400.5 L791.1 405.5 L794.5 405.2 L798.0 399.2 L801.4 398.7 L804.9 398.7 L808.3 397.9 L811.8 395.3 L815.2 395.5 L818.7 396.0 L822.2 396.8 L825.6 391.7 L829.1 388.4 L832.5 387.9 L836.0 383.0 L839.4 383.8 L842.9 382.3 L846.3 382.0 L849.8 380.2 L853.2 377.4 L856.7 377.1 L860.1 374.7 L863.6 369.7 L867.0 365.1 L870.5 362.8 L873.9 355.3 L877.4 361.1 L880.8 365.9 L884.3 365.6 L887.7 364.3 L891.2 365.1 L894.6 359.2 L898.1 356.3 L901.5 353.7 L905.0 360.7 L908.4 358.5 L911.9 370.0 L915.3 361.3 L918.8 356.6 L922.2 356.5 L925.7 353.0 L929.1 362.3 L932.6 353.0 L936.0 351.6 L939.5 354.0 L942.9 351.4 L946.4 350.7 L949.8 345.5" stroke="#ff5a5a" stroke-width="1.1" fill="none" stroke-linejoin="round"/>
<path d="M128.5 493V499 M211.5 493V499 M252.5 493V499 M294.5 493V499 M335.5 493V499 M376.5 493V499 M418.5 493V499 M459.5 493V499 M501.5 493V499 M542.5 493V499 M584.5 493V499 M625.5 493V499 M666.5 493V499 M708.5 493V499 M749.5 493V499 M791.5 493V499 M832.5 493V499 M873.5 493V499 M915.5 493V499" stroke="#a0a0a0" stroke-width="1" fill="none" shape-rendering="crispEdges"/>
</svg>

<!-- legend top chart -->
<div class="a leg" style="left:126.5px;top:21.5px;color:#e8139a">SMA12 10856.37</div>
<svg class="a" style="left:225.8px;top:22.5px" width="7" height="8.5" viewBox="0 0 7 8.5"><path d="M3.5 0L7 4.1H4.7V8.5H2.3V4.1H0Z" fill="#f00"/></svg>
<div class="a leg" style="left:248.5px;top:21.5px;color:#f26a28">SMA24 10751.26</div>
<svg class="a" style="left:347.8px;top:22.5px" width="7" height="8.5" viewBox="0 0 7 8.5"><path d="M3.5 0L7 4.1H4.7V8.5H2.3V4.1H0Z" fill="#f00"/></svg>
<div class="a leg" style="left:370.5px;top:21.5px;color:#1f94d2">SMA120 9035.24</div>
<svg class="a" style="left:469.8px;top:22.5px" width="7" height="8.5" viewBox="0 0 7 8.5"><path d="M3.5 0L7 4.1H4.7V8.5H2.3V4.1H0Z" fill="#f00"/></svg>

<!-- left panel arrows -->
<svg class="a" style="left:112.3px;top:24.0px" width="7" height="7.2" viewBox="0 0 7 7.2"><path d="M3.5 0L7 3.6H4.7V7.2H2.3V3.6H0Z" fill="#f00"/></svg>
<svg class="a" style="left:112.3px;top:36.5px" width="7" height="7.2" viewBox="0 0 7 7.2"><path d="M3.5 0L7 3.6H4.7V7.2H2.3V3.6H0Z" fill="#f00"/></svg>
<svg class="a" style="left:112.3px;top:49.0px" width="7" height="7.2" viewBox="0 0 7 7.2"><path d="M3.5 0L7 3.6H4.7V7.2H2.3V3.6H0Z" fill="#f00"/></svg>

<!-- lower chart legend -->
<div class="a" style="left:126.5px;top:335.5px;font-size:10px;line-height:13px;color:#444">比較商品</div>
<div class="a hb" style="left:174.5px;top:335px;font-size:11.5px;letter-spacing:1.3px;transform:scaleX(1.1);transform-origin:left">(11/29)</div>
<div class="a" style="left:244px;top:335px;font-size:10px;line-height:13px;color:#f03030">道瓊指數</div><div class="a" style="left:284px;top:335px;font-size:11px;line-height:13px;color:#f03030;letter-spacing:-0.6px">(DJI)</div>
<div class="a hb" style="left:307.5px;top:335px;font-size:11.5px;color:#f01010;letter-spacing:0.2px;transform:scaleX(1.1);transform-origin:left;-webkit-text-stroke:0.2px #f01010">28051.41</div>
<svg class="a" style="left:365px;top:337.5px" width="7" height="8.5" viewBox="0 0 7 8.5"><path d="M3.5 0L7 4.1H4.7V8.5H2.3V4.1H0Z" fill="#f00"/></svg>

<!-- right axis -->
<div class="yl" style="top:308.0px;">3500</div>
<div class="yl" style="top:292.1px;">4000</div>
<div class="yl" style="top:276.2px;">4500</div>
<div class="yl" style="top:260.4px;">5000</div>
<div class="yl" style="top:244.5px;">5500</div>
<div class="yl" style="top:228.6px;">6000</div>
<div class="yl" style="top:212.8px;">6500</div>
<div class="yl" style="top:196.9px;">7000</div>
<div class="yl" style="top:181.0px;">7500</div>
<div class="yl" style="top:165.1px;">8000</div>
<div class="yl" style="top:149.2px;">8500</div>
<div class="yl" style="top:133.4px;">9000</div>
<div class="yl" style="top:117.5px;">9500</div>
<div class="yl" style="top:101.6px;">10000</div>
<div class="yl" style="top:85.8px;">10500</div>
<div class="yl" style="top:69.9px;">11000</div>
<div class="yl" style="top:54.0px;">11500</div>
<div class="yl" style="top:38.1px;">12000</div>
<div class="yl" style="top:22.2px;">12500</div>
<div class="yl" style="top:380.5px">20K</div>
<div class="yl" style="top:433px">10K</div>

<!-- x axis -->
<div class="xl" style="left:127.0px;">2000/01</div>
<div class="xl c" style="left:189.0px;">2002</div>
<div class="xl c" style="left:230.0px;">2003</div>
<div class="xl c" style="left:272.0px;">2004</div>
<div class="xl c" style="left:313.0px;">2005</div>
<div class="xl c" style="left:354.0px;">2006</div>
<div class="xl c" style="left:396.0px;">2007</div>
<div class="xl c" style="left:437.0px;">2008</div>
<div class="xl c" style="left:479.0px;">2009</div>
<div class="xl c" style="left:520.0px;">2010</div>
<div class="xl c" style="left:562.0px;">2011</div>
<div class="xl c" style="left:603.0px;">2012</div>
<div class="xl c" style="left:644.0px;">2013</div>
<div class="xl c" style="left:686.0px;">2014</div>
<div class="xl c" style="left:727.0px;">2015</div>
<div class="xl c" style="left:769.0px;">2016</div>
<div class="xl c" style="left:810.0px;">2017</div>
<div class="xl c" style="left:851.0px;">2018</div>
<div class="xl c" style="left:893.0px;">2019</div>

<!-- bottom toolbar -->
<div class="a" style="left:123px;top:518px;width:56px;height:12px;background:#fff;border:1px solid #c8c8c8;border-bottom:none"></div>
<div class="a ser" style="left:124px;top:517.5px;font-size:10.5px;line-height:13px;color:#111;letter-spacing:-1.1px">2000/01/04</div>
<div class="a" style="left:165px;top:518.5px;width:13px;height:9px;background:#f0f0f0;border-right:1px solid #707070;border-bottom:1px solid #707070"></div>
<svg class="a" style="left:167.5px;top:521px" width="5" height="3"><path d="M0 0H5L2.5 3Z" fill="#000"/></svg>
<div class="a" style="left:182.5px;top:517px;font-size:12px;line-height:14px;color:#3a5a8a">~</div>
<div class="a" style="left:192px;top:518px;width:54px;height:12px;background:#fff;border:1px solid #c8c8c8;border-bottom:none"></div>
<div class="a ser" style="left:193px;top:517.5px;font-size:10.5px;line-height:13px;color:#111;letter-spacing:-1.1px">2019/12/02</div>
<div class="a" style="left:233px;top:518.5px;width:13px;height:9px;background:#f0f0f0;border-right:1px solid #707070;border-bottom:1px solid #707070"></div>
<svg class="a" style="left:235.5px;top:521px" width="5" height="3"><path d="M0 0H5L2.5 3Z" fill="#000"/></svg>
<!-- hand icons -->
<svg class="a" style="left:248px;top:518px" width="12" height="12" viewBox="0 0 12 12"><defs><radialGradient id="hg" cx="0.5" cy="0.5" r="0.6"><stop offset="0" stop-color="#1040e0"/><stop offset="0.7" stop-color="#1080f0"/><stop offset="1" stop-color="#20e0ff"/></radialGradient></defs><rect x="0" y="7" width="6" height="4.5" fill="#c8c8c8"/><rect x="0.2" y="0.2" width="10.8" height="7" fill="url(#hg)"/><path d="M3 5.5L5 5L7 6.5L10 6.5L11.5 8.5V11.5H7L4 8Z" fill="#e2c08a"/></svg>
<div class="a" style="left:262.5px;top:518px;font-size:9px;line-height:12px;color:#000">保留空間</div>
<div class="a" style="left:301px;top:518px;width:23px;height:12px;background:#fff"></div>
<div class="a ser" style="left:302px;top:517.5px;font-size:9px;line-height:10px;color:#222;font-style:italic">3</div>
<div class="a" style="left:324px;top:518px;width:10px;height:12px;background:#e8e8e8;border:1px solid #909090"></div>
<div class="a" style="left:325px;top:523.5px;width:8px;height:1px;background:#909090"></div><div class="a" style="left:328.5px;top:521px;width:1px;height:1px;background:#444"></div><div class="a" style="left:328.5px;top:526px;width:1px;height:1px;background:#444"></div>
<svg class="a" style="left:335.5px;top:518px" width="12" height="12" viewBox="0 0 12 12"><rect x="0" y="7" width="6" height="4.5" fill="#c8c8c8"/><rect x="0.2" y="0.2" width="10.8" height="7" fill="url(#hg)"/><path d="M3 5.5L5 5L7 6.5L10 6.5L11.5 8.5V11.5H7L4 8Z" fill="#e2c08a"/></svg>
<div class="a" style="left:359px;top:518px;width:558px;height:12px;background:#e4e5e6"></div>
<div class="a" style="left:347px;top:518px;width:12px;height:12px;background:#dcdcdc;border:1px solid #c4c4c4;border-radius:2px"></div>
<svg class="a" style="left:349px;top:520px" width="8" height="8"><path d="M5.5 1L2.5 4L5.5 7" stroke="#333" stroke-width="1.6" fill="none"/></svg>
<div class="a" style="left:577px;top:518px;width:336px;height:12px;background:#c9c9c9;border:1px solid #b8b8b8;border-radius:2px"></div>
<div class="a ser" style="left:577px;top:517px;width:336px;text-align:center;font-size:11px;line-height:13px;color:#222;letter-spacing:-0.5px">240</div>
<div class="a" style="left:917px;top:518px;width:12px;height:12px;background:#dcdcdc;border:1px solid #c4c4c4;border-radius:2px"></div>
<svg class="a" style="left:919px;top:520px" width="8" height="8"><path d="M2.5 1L5.5 4L2.5 7" stroke="#333" stroke-width="1.6" fill="none"/></svg>
<!-- tool icons -->
<div class="a" style="left:929px;top:518px;width:81px;height:12px;background:#e8f0fb"></div>
<svg class="a" style="left:929px;top:518px" width="93" height="12" viewBox="0 0 93 12">
 <g fill="none" stroke="#a4b8da" stroke-width="1">
  <rect x="0.5" y="0.5" width="10.5" height="11"/>
  <rect x="12" y="0.5" width="10.5" height="11"/>
  <rect x="23.5" y="0.5" width="10.5" height="11"/>
  <rect x="35" y="0.5" width="10.5" height="11"/>
  <rect x="46.5" y="0.5" width="10.5" height="11"/>
  <rect x="58" y="0.5" width="10.5" height="11"/>
  <rect x="69.5" y="0.5" width="10.5" height="11"/>
 </g>
 <path d="M2 2v8" stroke="#f0a030" stroke-width="1" stroke-dasharray="1 1.5"/>
 <path d="M5 1L10 7H7.5L9 10.5L7.5 11.5L6 7.5L5 9Z" fill="#3050a8"/>
 <circle cx="17.5" cy="6" r="4" fill="#fff" stroke="#b8c8e8"/>
 <path d="M18.5 3.5V6.5H16" stroke="#e03030" stroke-width="1.2" fill="none"/>
 <path d="M26 6H32" stroke="#6a86c4" stroke-width="1.2"/>
 <path d="M37 6H44M40.5 2.5V9.5" stroke="#6a86c4" stroke-width="1.2"/>
 <path d="M49 7Q52 2 55.5 5.5V9" stroke="#7890c8" stroke-width="1.1" fill="none"/>
 <path d="M48 5.5L49 8.5L51.5 7.5Z" fill="#5a78c0"/>
 <path d="M60 4.5V2.5H62M64.5 2.5H66.5V4.5M66.5 7.5V9.5H64.5M62 9.5H60V7.5" stroke="#6a86c4" stroke-width="1.1" fill="none"/>
 <rect x="62" y="4.5" width="2.5" height="3" fill="none" stroke="#6a86c4" stroke-width="0.9"/>
 <path d="M71.5 10L77 4.5" stroke="#7890c8" stroke-width="1.4"/>
 <circle cx="77.5" cy="3.5" r="1.6" fill="none" stroke="#7890c8" stroke-width="1"/>
 <rect x="81" y="0" width="11" height="12" fill="#c41818"/>
 <path d="M86.5 1.8C84.5 1.8 83.8 3.6 83.8 5.6V7.6L82.8 9.2H90.2L89.2 7.6V5.6C89.2 3.6 88.5 1.8 86.5 1.8Z M85.8 9.2H87.2V11H85.8Z" fill="#f2e48a"/>
</svg>
</body></html>
